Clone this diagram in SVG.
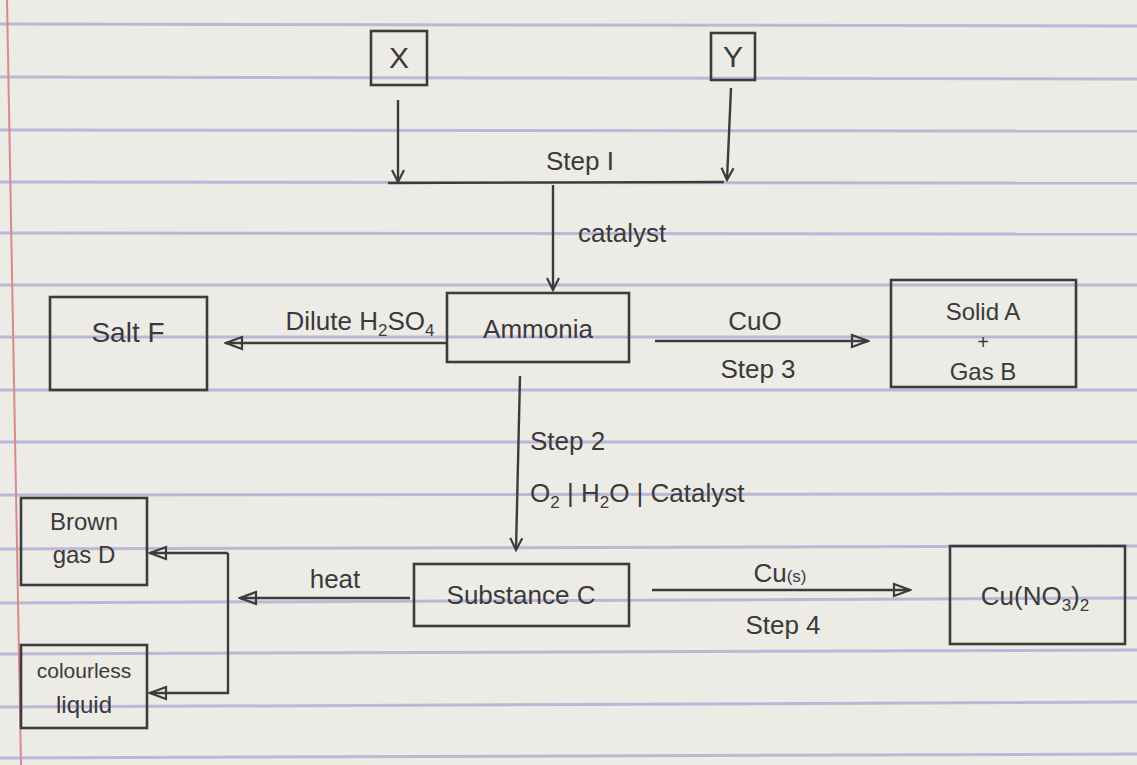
<svg xmlns="http://www.w3.org/2000/svg" width="1137" height="765" viewBox="0 0 1137 765">
<defs>
<style>
.paper{fill:#ecebe6}
.rule{stroke:#b9b8d6;stroke-width:3}
.margin{stroke:#d98a8a;stroke-width:2}
.box{fill:none;stroke:#3c3c3c;stroke-width:2.6}
.ln{fill:none;stroke:#3c3c3c;stroke-width:2.4}
.t{font-family:"Liberation Sans",Arial,sans-serif;font-size:26px;fill:#3a3a3a}
.c{text-anchor:middle}
.sub{font-size:17px}
</style>
<marker id="tri" viewBox="0 0 20 16" refX="18" refY="8" markerWidth="20" markerHeight="16" markerUnits="userSpaceOnUse" orient="auto">
<path d="M2,2 L18,8 L2,14 Z" fill="none" stroke="#3c3c3c" stroke-width="2.2"/>
</marker>
<marker id="chev" viewBox="0 0 16 16" refX="14" refY="8" markerWidth="16" markerHeight="16" markerUnits="userSpaceOnUse" orient="auto">
<path d="M2,2 L14,8 L2,14" fill="none" stroke="#3c3c3c" stroke-width="2.2"/>
</marker>
</defs>
<g id="background">
<rect class="paper" x="0" y="0" width="1137" height="765"/>
<line class="rule" x1="0" y1="24" x2="1137" y2="26"/>
<line class="rule" x1="0" y1="77" x2="1137" y2="79"/>
<line class="rule" x1="0" y1="130" x2="1137" y2="131"/>
<line class="rule" x1="0" y1="182" x2="1137" y2="183"/>
<line class="rule" x1="0" y1="233" x2="1137" y2="234"/>
<line class="rule" x1="0" y1="285" x2="1137" y2="285"/>
<line class="rule" x1="0" y1="337" x2="1137" y2="337"/>
<line class="rule" x1="0" y1="390" x2="1137" y2="390"/>
<line class="rule" x1="0" y1="442" x2="1137" y2="442"/>
<line class="rule" x1="0" y1="495" x2="1137" y2="494"/>
<line class="rule" x1="0" y1="549" x2="1137" y2="546"/>
<line class="rule" x1="0" y1="603" x2="1137" y2="598"/>
<line class="rule" x1="0" y1="654" x2="1137" y2="650"/>
<line class="rule" x1="0" y1="707" x2="1137" y2="702"/>
<line class="rule" x1="0" y1="758" x2="1137" y2="754"/>
<line class="margin" x1="7" y1="0" x2="21" y2="765"/>
</g>
<g id="connectors">
<line class="ln" x1="398" y1="100" x2="398" y2="182" marker-end="url(#chev)"/>
<line class="ln" x1="731" y1="88" x2="727" y2="180" marker-end="url(#chev)"/>
<line class="ln" x1="388" y1="183" x2="724" y2="182"/>
<line class="ln" x1="553" y1="185" x2="553" y2="290" marker-end="url(#chev)"/>
<line class="ln" x1="447" y1="343" x2="226" y2="343" marker-end="url(#tri)"/>
<line class="ln" x1="655" y1="341" x2="868" y2="341" marker-end="url(#tri)"/>
<line class="ln" x1="520" y1="376" x2="516" y2="550" marker-end="url(#chev)"/>
<line class="ln" x1="652" y1="590" x2="910" y2="590" marker-end="url(#tri)"/>
<line class="ln" x1="410" y1="598" x2="240" y2="598" marker-end="url(#tri)"/>
<polyline class="ln" points="228,553 228,693 150,693" marker-end="url(#tri)"/>
<line class="ln" x1="228" y1="553" x2="150" y2="553" marker-end="url(#tri)"/>
<text class="t c" x="580" y="170">Step I</text>
<text class="t" x="578" y="242">catalyst</text>
<text class="t c" x="360" y="330">Dilute H<tspan class="sub" dy="6">2</tspan><tspan dy="-6">SO</tspan><tspan class="sub" dy="6">4</tspan></text>
<text class="t c" x="755" y="330">CuO</text>
<text class="t c" x="758" y="378">Step 3</text>
<text class="t" x="530" y="450">Step 2</text>
<text class="t" x="530" y="502">O<tspan class="sub" dy="6">2</tspan><tspan dy="-6"> | H</tspan><tspan class="sub" dy="6">2</tspan><tspan dy="-6">O | Catalyst</tspan></text>
<text class="t c" x="780" y="582">Cu<tspan class="sub">(s)</tspan></text>
<text class="t c" x="783" y="634">Step 4</text>
<text class="t c" x="335" y="588">heat</text>
</g>
<g id="node-x"><rect class="box" x="371" y="31" width="56" height="54"/><text class="t c" x="399" y="68" style="font-size:30px">X</text></g>
<g id="node-y"><rect class="box" x="711" y="33" width="44" height="47"/><text class="t c" x="733" y="67" style="font-size:30px">Y</text></g>
<g id="node-salt-f"><rect class="box" x="50" y="297" width="157" height="93"/><text class="t c" x="128" y="342" style="font-size:28px">Salt F</text></g>
<g id="node-ammonia"><rect class="box" x="447" y="293" width="182" height="69"/><text class="t c" x="538" y="338">Ammonia</text></g>
<g id="node-solid-gas"><rect class="box" x="891" y="280" width="185" height="107"/><text class="t c" x="983" y="320" style="font-size:24px">Solid A</text><text class="t c" x="983" y="349" style="font-size:20px">+</text><text class="t c" x="983" y="380" style="font-size:24px">Gas B</text></g>
<g id="node-substance-c"><rect class="box" x="414" y="564" width="215" height="62"/><text class="t c" x="521" y="604">Substance C</text></g>
<g id="node-cu-nitrate"><rect class="box" x="950" y="546" width="175" height="98"/><text class="t c" x="1035" y="605">Cu(NO<tspan class="sub" dy="6">3</tspan><tspan dy="-6">)</tspan><tspan class="sub" dy="6">2</tspan></text></g>
<g id="node-brown-gas"><rect class="box" x="21" y="498" width="126" height="87"/><text class="t c" x="84" y="530" style="font-size:24px">Brown</text><text class="t c" x="84" y="563" style="font-size:24px">gas D</text></g>
<g id="node-colourless"><rect class="box" x="21" y="645" width="126" height="83"/><text class="t c" x="84" y="678" style="font-size:21px">colourless</text><text class="t c" x="84" y="713" style="font-size:24px">liquid</text></g>
</svg>
